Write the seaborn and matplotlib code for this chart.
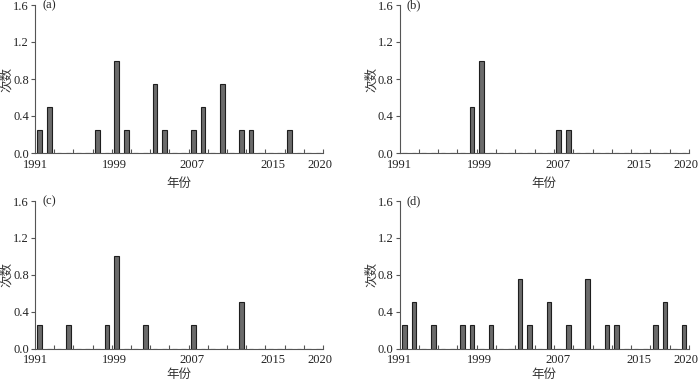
import matplotlib
matplotlib.use("Agg")
import matplotlib.pyplot as plt
import matplotlib.transforms as mtransforms
import seaborn as sns
import numpy as np
import pandas as pd

# ---------------- data ----------------
years = list(range(1991, 2021))

vals_a = [0.25, 0.5, 0, 0, 0, 0, 0.25, 0, 1.0, 0.25,
          0, 0, 0.75, 0.25, 0, 0, 0.25, 0.5, 0, 0.75,
          0, 0.25, 0.25, 0, 0, 0, 0.25, 0, 0, 0]
vals_b = [0, 0, 0, 0, 0, 0, 0, 0.5, 1.0, 0,
          0, 0, 0, 0, 0, 0, 0.25, 0.25, 0, 0,
          0, 0, 0, 0, 0, 0, 0, 0, 0, 0]
vals_c = [0.25, 0, 0, 0.25, 0, 0, 0, 0.25, 1.0, 0,
          0, 0.25, 0, 0, 0, 0, 0.25, 0, 0, 0,
          0, 0.5, 0, 0, 0, 0, 0, 0, 0, 0]
vals_d = [0.25, 0.5, 0, 0.25, 0, 0, 0.25, 0.25, 0, 0.25,
          0, 0, 0.75, 0.25, 0, 0.5, 0, 0.25, 0, 0.75,
          0, 0.25, 0.25, 0, 0, 0, 0.25, 0.5, 0, 0.25]

panel_labels = ["(a)", "(b)", "(c)", "(d)"]
xtick_labels = ["1991", "1999", "2007", "2015", "2020"]
ytick_values = [0.0, 0.4, 0.8, 1.2, 1.6]
ylabel = "次数"
xlabel = "年份"

# ---------------- style ----------------
sns.set_style("ticks")
plt.rcParams["font.family"] = ["Liberation Serif", "Noto Sans CJK SC", "DejaVu Sans"]
plt.rcParams["axes.unicode_minus"] = False

W, H = 700, 382
fig = plt.figure(figsize=(7.0, 3.82), dpi=100)
fig.patch.set_facecolor("white")

# axes boxes in pixels: left, top(1.6), right, bottom(0.0), xlabel offset
boxes = [
    (35, 5, 323, 153, 30),
    (399.5, 5, 689, 153, 30),
    (35, 201, 323, 348.5, 26),
    (399.5, 201, 689, 348.5, 26),
]

series = [vals_a, vals_b, vals_c, vals_d]
label_pos = [1990.5, 1998.75, 2006.9, 2015.3, 2020.2]

for (l, t, r, b, xoff), vals, plab in zip(boxes, series, panel_labels):
    ax = fig.add_axes([l / W, 1 - b / H, (r - l) / W, (b - t) / H])
    df = pd.DataFrame({"year": years, "count": vals})
    sns.barplot(data=df, x="year", y="count", native_scale=True, ax=ax,
                color="#6b6b6b", saturation=1, edgecolor="#1e1e1e",
                linewidth=0.8, width=0.48, errorbar=None)
    ax.set_xlim(1990.5, 2020.5)
    ax.set_ylim(0, 1.6)
    sns.despine(ax=ax)
    for sp in ("left", "bottom"):
        ax.spines[sp].set_linewidth(0.8)
        ax.spines[sp].set_color("#555555")
    ax.set_yticks(ytick_values)
    ax.set_yticklabels([f"{v:.1f}" for v in ytick_values], fontsize=9,
                       family="Liberation Serif", color="#222222")
    ax.tick_params(axis="y", direction="out", length=3, width=0.8,
                   color="#555555", pad=1.5)
    ax.set_xticks(label_pos)
    ax.set_xticklabels(xtick_labels, fontsize=9, family="Liberation Serif",
                       color="#222222")
    ax.tick_params(axis="x", which="major", length=0, pad=4)
    ax.set_xticks(np.arange(1992.5, 2021, 2), minor=True)
    ax.tick_params(axis="x", which="minor", direction="in", length=3,
                   width=0.8, color="#555555")
    ax.set_xlabel(xlabel, fontsize=9, family=["Noto Sans CJK SC"],
                  color="#333333")
    ax.set_ylabel(ylabel, fontsize=9, family=["Noto Sans CJK SC"],
                  color="#333333")
    ax.xaxis.set_label_coords(0.5, -xoff / (b - t))
    ax.xaxis.label.set_verticalalignment("center")
    ax.yaxis.set_label_coords(-28 / (r - l), 0.5)
    ax.yaxis.label.set_verticalalignment("center")
    ax.text(0.025, 1.0, plab, transform=ax.transAxes, fontsize=9,
            family="Liberation Serif", va="center", ha="left")

fig.savefig("out.png", dpi=100, facecolor="white")
